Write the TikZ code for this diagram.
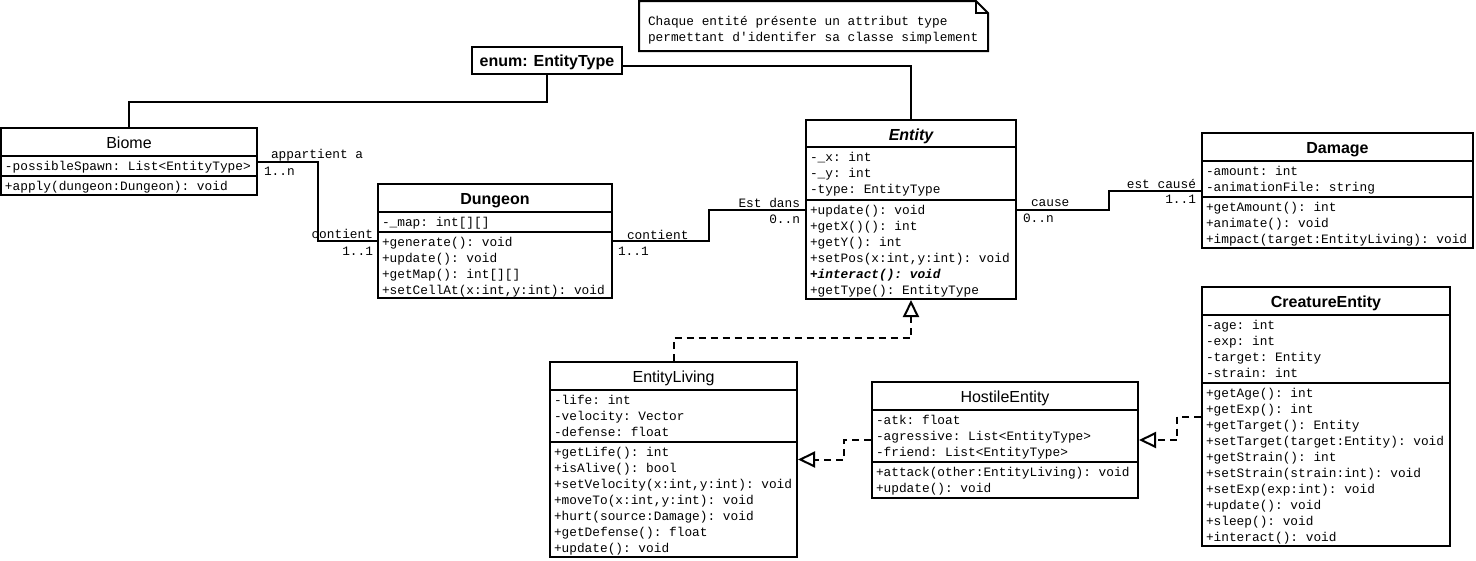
\documentclass[tikz,border=0pt]{standalone}
\usepackage{fontspec}
\setmainfont{Liberation Sans}
\setmonofont{Liberation Mono}
\usetikzlibrary{arrows.meta,positioning}

\begin{document}
\begin{tikzpicture}[x=1pt, y=-1pt, line width=2pt,
    box/.style={draw, line width=2pt, inner sep=0pt},
    title/.style={anchor=base, inner sep=0pt, font=\fontsize{16}{19}\selectfont},
    member/.style={anchor=base west, inner sep=0pt, font=\ttfamily\fontsize{12.8}{16}\selectfont},
    realize/.style={dash pattern=on 7pt off 5pt, -{Triangle[open, length=17pt, width=16pt]}}]
    \useasboundingbox (0,0) rectangle (1476,560);

    % note
    \draw (639,1) -- (976,1) -- (988,13) -- (988,51) -- (639,51) -- cycle;
    \draw (976,1) -- (976,13) -- (988,13);
    \node[member] (note-1) at (647,25.5) {Chaque entité présente un attribut type};
    \node[member] (note-2) at (647,41.5) {permettant d'identifer sa classe simplement};

    % enum
    \node[box, font=\bfseries\fontsize{16}{19}\selectfont, text height=12pt, text depth=0pt,
      minimum width=150pt, minimum height=27pt] (enum) at (547,60.5) {enum: EntityType};

    % Biome
    \node[box, minimum width=256pt, minimum height=67pt] (biome) at (129,161.5) {};
    \node[title] (biome-name) at (129,148) {Biome};
    \draw (biome.west |- 0,156) -- (biome.east |- 0,156);
    \draw (biome.west |- 0,176) -- (biome.east |- 0,176);
    \node[member] (biome-a0) at (4,170) {-possibleSpawn: List<EntityType>};
    \node[member] (biome-o0) at (4,190) {+apply(dungeon:Dungeon): void};

    % Dungeon
    \node[box, minimum width=234pt, minimum height=114pt] (dungeon) at (495,241) {};
    \node[title, font=\bfseries\fontsize{16}{19}\selectfont] (dungeon-name) at (495,204) {Dungeon};
    \draw (dungeon.west |- 0,212) -- (dungeon.east |- 0,212);
    \draw (dungeon.west |- 0,232) -- (dungeon.east |- 0,232);
    \node[member] (dungeon-a0) at (381,226) {-\_map: int[][]};
    \foreach \m [count=\i from 0] in {{+generate(): void},{+update(): void},{+getMap(): int[][]},
      {+setCellAt(x:int,y:int): void}} {
      \node[member] (dungeon-o\i) at (381,246+16*\i) {\m};
    }

    % Entity
    \node[box, minimum width=210pt, minimum height=179pt] (entity) at (911,209.5) {};
    \node[title, font=\bfseries\itshape\fontsize{16}{19}\selectfont] (entity-name) at (911,140) {Entity};
    \draw (entity.west |- 0,147) -- (entity.east |- 0,147);
    \draw (entity.west |- 0,200) -- (entity.east |- 0,200);
    \foreach \m [count=\i from 0] in {{-\_x: int},{-\_y: int},{-type: EntityType}} {
      \node[member] (entity-a\i) at (809,161+16*\i) {\m};
    }
    \foreach \m [count=\i from 0] in {{+update(): void},{+getX()(): int},{+getY(): int},
      {+setPos(x:int,y:int): void},{\bfseries\itshape +interact(): void},{+getType(): EntityType}} {
      \node[member] (entity-o\i) at (809,214+16*\i) {\m};
    }

    % Damage
    \node[box, minimum width=271pt, minimum height=115pt] (damage) at (1337.5,190.5) {};
    \node[title, font=\bfseries\fontsize{16}{19}\selectfont] (damage-name) at (1337.5,153) {Damage};
    \draw (damage.west |- 0,161) -- (damage.east |- 0,161);
    \draw (damage.west |- 0,197) -- (damage.east |- 0,197);
    \foreach \m [count=\i from 0] in {{-amount: int},{-animationFile: string}} {
      \node[member] (damage-a\i) at (1205,175+16*\i) {\m};
    }
    \foreach \m [count=\i from 0] in {{+getAmount(): int},{+animate(): void},
      {+impact(target:EntityLiving): void}} {
      \node[member] (damage-o\i) at (1205,211+16*\i) {\m};
    }

    % EntityLiving
    \node[box, minimum width=247pt, minimum height=195pt] (living) at (673.5,459.5) {};
    \node[title] (living-name) at (673.5,382) {EntityLiving};
    \draw (living.west |- 0,390) -- (living.east |- 0,390);
    \draw (living.west |- 0,442) -- (living.east |- 0,442);
    \foreach \m [count=\i from 0] in {{-life: int},{-velocity: Vector},{-defense: float}} {
      \node[member] (living-a\i) at (553,404+16*\i) {\m};
    }
    \foreach \m [count=\i from 0] in {{+getLife(): int},{+isAlive(): bool},
      {+setVelocity(x:int,y:int): void},{+moveTo(x:int,y:int): void},{+hurt(source:Damage): void},
      {+getDefense(): float},{+update(): void}} {
      \node[member] (living-o\i) at (553,456+16*\i) {\m};
    }

    % HostileEntity
    \node[box, minimum width=266pt, minimum height=116pt] (hostile) at (1005,440) {};
    \node[title] (hostile-name) at (1005,402) {HostileEntity};
    \draw (hostile.west |- 0,410) -- (hostile.east |- 0,410);
    \draw (hostile.west |- 0,462) -- (hostile.east |- 0,462);
    \foreach \m [count=\i from 0] in {{-atk: float},{-agressive: List<EntityType>},
      {-friend: List<EntityType>}} {
      \node[member] (hostile-a\i) at (875,424+16*\i) {\m};
    }
    \foreach \m [count=\i from 0] in {{+attack(other:EntityLiving): void},{+update(): void}} {
      \node[member] (hostile-o\i) at (875,476+16*\i) {\m};
    }

    % CreatureEntity
    \node[box, minimum width=248pt, minimum height=259pt] (creature) at (1326,416.5) {};
    \node[title, font=\bfseries\fontsize{16}{19}\selectfont] (creature-name) at (1326,307) {CreatureEntity};
    \draw (creature.west |- 0,315) -- (creature.east |- 0,315);
    \draw (creature.west |- 0,383) -- (creature.east |- 0,383);
    \foreach \m [count=\i from 0] in {{-age: int},{-exp: int},{-target: Entity},{-strain: int}} {
      \node[member] (creature-a\i) at (1205,329+16*\i) {\m};
    }
    \foreach \m [count=\i from 0] in {{+getAge(): int},{+getExp(): int},{+getTarget(): Entity},
      {+setTarget(target:Entity): void},{+getStrain(): int},{+setStrain(strain:int): void},
      {+setExp(exp:int): void},{+update(): void},{+sleep(): void},{+interact(): void}} {
      \node[member] (creature-o\i) at (1205,397+16*\i) {\m};
    }

    % associations
    \draw (enum.south) -- ++(0,27) -| (biome.north);
    \draw ([yshift=-5.5pt]enum.east) -| (entity.north);
    \draw (biome.east) -- ++(60,0) |- (dungeon.west);
    \draw (dungeon.east) -- ++(96,0) |- (entity.west);
    \draw (entity.east) -- ++(92,0) |- (damage.west);

    % inheritance
    \draw[realize] (living.north) -- ++(0,-23) -| (entity.south);
    \draw[realize] (hostile.west) -- ++(-27,0) |- (living.east);
    \draw[realize] (creature.west) -- ++(-24,0) |- (hostile.east);

    % roles and multiplicities
    \node[member] (biome-role) at (270,158) {appartient a};
    \node[member] (biome-mult) at (263,175) {1..n};
    \node[member, anchor=base east] (dungeon-role1) at (374,238) {contient};
    \node[member, anchor=base east] (dungeon-mult1) at (374,255) {1..1};
    \node[member] (dungeon-role2) at (626,239) {contient};
    \node[member] (dungeon-mult2) at (617,255) {1..1};
    \node[member, anchor=base east] (entity-role1) at (801,207) {Est dans};
    \node[member, anchor=base east] (entity-mult1) at (801,223) {0..n};
    \node[member] (entity-role2) at (1030,206) {cause};
    \node[member] (entity-mult2) at (1022,222) {0..n};
    \node[member, anchor=base east] (damage-role) at (1197,188) {est causé};
    \node[member, anchor=base east] (damage-mult) at (1197,203) {1..1};
  \end{tikzpicture}
\end{document}
